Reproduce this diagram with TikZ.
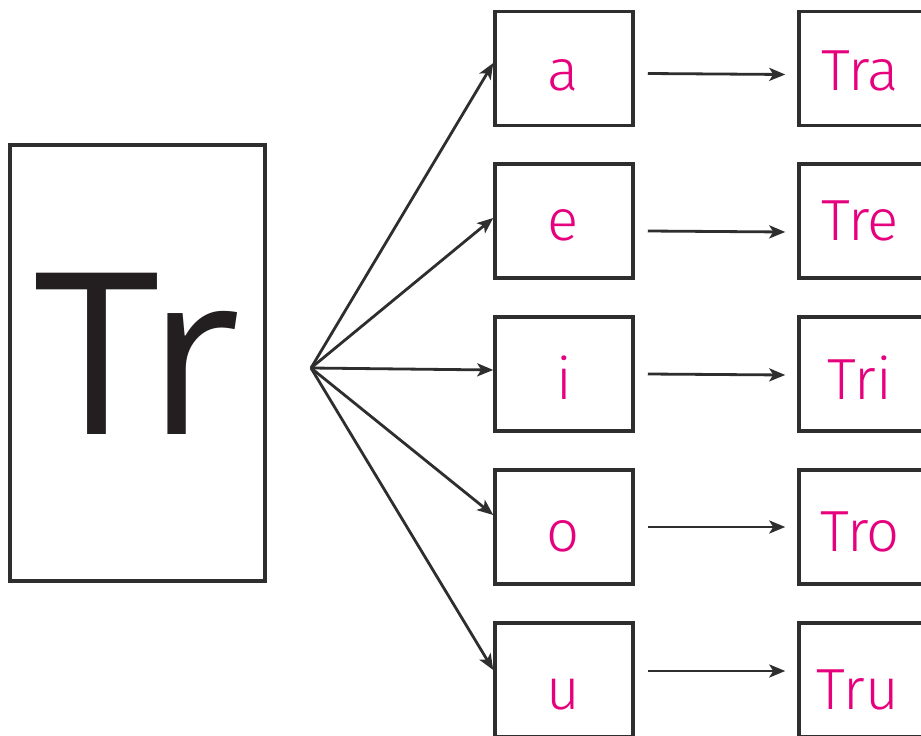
\documentclass[tikz,border=0pt]{standalone}
\usepackage{fontspec}
\setmainfont{Open Sans}
\newfontfamily\thinfont{Fira Sans Light}
\usetikzlibrary{arrows.meta,calc}
\definecolor{pinkc}{HTML}{E6007E}
\definecolor{linec}{HTML}{2E2E2E}
\definecolor{trc}{HTML}{231F20}
\begin{document}
\begin{tikzpicture}[x=1pt,y=-1pt,
  boxst/.style={draw=linec,line width=3.5pt,inner sep=0pt},
  sbox/.style={boxst,minimum width=138pt,minimum height=114pt},
  rbox/.style={boxst,minimum width=160pt,minimum height=114pt},
  ptext/.style={font=\thinfont\fontsize{58}{58}\selectfont,text=pinkc,anchor=base,inner sep=0pt},
  arr/.style={draw=linec,line width=2.8pt,-{Stealth[length=16pt,width=13pt,inset=4pt]}}]
\useasboundingbox (0,0) rectangle (921,736);
\fill[white] (0,0) rectangle (921,736);
% main box
\node[boxst,minimum width=255pt,minimum height=436pt] (tr) at (137.5,363) {};
\node[font=\fontsize{226}{226}\selectfont,text=trc,anchor=base,inner sep=0pt] (trt) at (137.5,434) {Tr};
\coordinate (fan) at (311,368);
% small boxes
\node[sbox] (a) at (564,68.5) {};
\node[sbox] (e) at (564,221) {};
\node[sbox] (i) at (564,374) {};
\node[sbox] (o) at (564,527) {};
\node[sbox] (u) at (564,680) {};
\node[ptext] (ta) at (563,90) {a};
\node[ptext] (te) at (563,240) {e};
\node[ptext] (ti) at (564,399) {i};
\node[ptext] (to) at (563,551) {o};
\node[ptext] (tu) at (563,709) {u};
% right boxes
\node[rbox] (ra) at (879,68.5) {};
\node[rbox] (re) at (879,221) {};
\node[rbox] (ri) at (879,374) {};
\node[rbox] (ro) at (879,527) {};
\node[rbox] (ru) at (879,680) {};
\node[ptext] (tra) at (860,90) {Tra};
\node[ptext] (tre) at (860,240) {Tre};
\node[ptext] (tri) at (860,399) {Tri};
\node[ptext] (tro) at (860,551) {Tro};
\node[ptext] (tru) at (858,709) {Tru};
% fan arrows
\draw[arr] (fan) -- ([yshift=5.5pt]a.west);
\draw[arr] (fan) -- ([yshift=3pt]e.west);
\draw[arr] (fan) -- ([yshift=4pt]i.west);
\draw[arr] (fan) -- ([yshift=12pt]o.west);
\draw[arr] (fan) -- ([yshift=10pt]u.west);
% horizontal arrows
\draw[arr] ([xshift=13pt,yshift=-5pt]a.east) -- ([xshift=-12pt,yshift=-6pt]ra.west);
\draw[arr] ([xshift=13pt,yshift=-10pt]e.east) -- ([xshift=-12pt,yshift=-11pt]re.west);
\draw[arr] ([xshift=13pt]i.east) -- ([xshift=-12pt,yshift=-1pt]ri.west);
\draw[arr] ([xshift=13pt]o.east) -- ([xshift=-12pt]ro.west);
\draw[arr] ([xshift=13pt,yshift=9pt]u.east) -- ([xshift=-12pt,yshift=9pt]ru.west);
\end{tikzpicture}
\end{document}
